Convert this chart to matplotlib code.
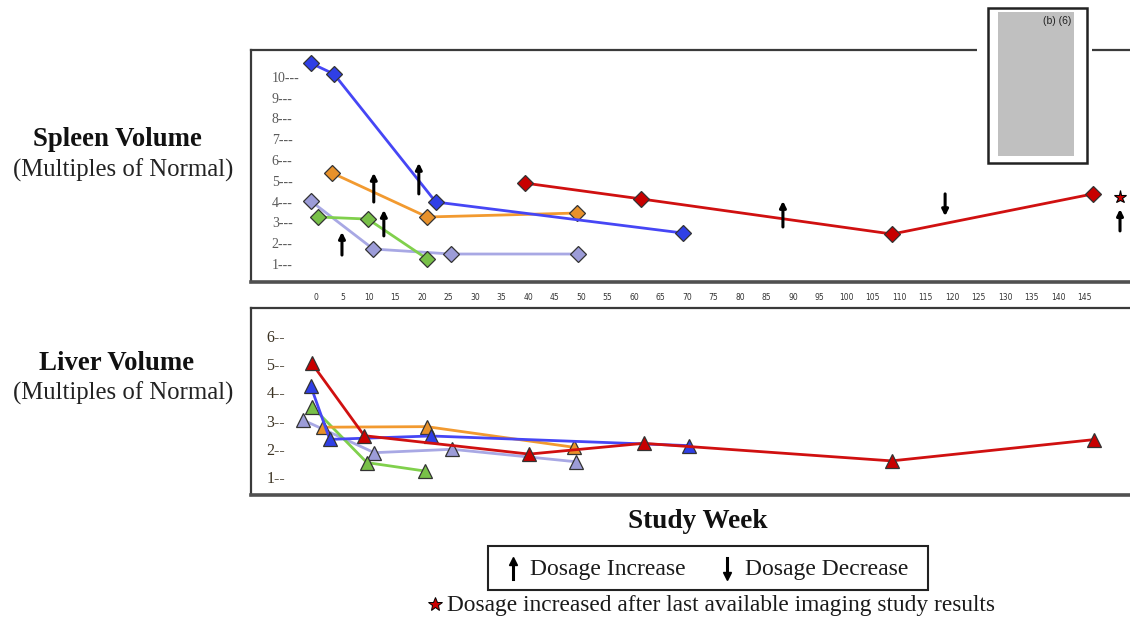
import matplotlib
matplotlib.use("Agg")
import matplotlib.pyplot as plt
from matplotlib.patches import Rectangle
from matplotlib.lines import Line2D

plt.rcParams['font.family'] = ['Liberation Serif', 'DejaVu Serif']

W, H = 1130, 618

# ---------------- data ----------------
week_ticks = list(range(0, 150, 5))
spleen_yticks = list(range(1, 11))
spleen_ylabels = [f"{v}---" for v in spleen_yticks]
liver_yticks = list(range(1, 7))
liver_ylabels = [f"{v}--" for v in liver_yticks]

# spleen volume (diamonds)
sp_blue_w = [-1, 3.4, 22.6, 69.2]
sp_blue_v = [10.66, 10.13, 3.98, 2.49]
sp_orange_w = [3.0, 21.0, 49.2]
sp_orange_v = [5.38, 3.26, 3.45]
sp_lav_w = [-1.0, 10.8, 25.5, 49.4]
sp_lav_v = [4.03, 1.72, 1.48, 1.48]
sp_green_w = [0.4, 9.8, 21.0]
sp_green_v = [3.26, 3.16, 1.24]
sp_red_w = [39.4, 61.3, 108.7, 146.6]
sp_red_v = [4.89, 4.13, 2.44, 4.37]

# liver volume (triangles)
lv_red_w = [-0.8, 9.1, 40.2, 61.8, 108.6, 146.7]
lv_red_v = [5.03, 2.47, 1.82, 2.20, 1.58, 2.33]
lv_blue_w = [-1.0, 2.6, 21.7, 70.3]
lv_blue_v = [4.23, 2.34, 2.46, 2.12]
lv_orange_w = [1.4, 20.9, 48.7]
lv_orange_v = [2.77, 2.79, 2.06]
lv_green_w = [-0.7, 9.6, 20.6]
lv_green_v = [3.49, 1.52, 1.22]
lv_lav_w = [-2.4, 11.0, 25.7, 49.0]
lv_lav_v = [3.02, 1.87, 1.99, 1.55]

# dosage arrows on spleen panel: week, tail value, tip value
arrow_w = [10.9, 19.4, 12.8, 4.9, 88.1, 118.7, 151.7]
arrow_tail = [3.98, 4.37, 2.35, 1.43, 2.78, 4.37, 2.59]
arrow_tip = [5.38, 5.86, 3.60, 2.54, 4.03, 3.30, 3.64]
star_w = [151.7]
star_v = [4.2]

# ---------------- layout helpers ----------------
def fx(x):
    return x / W

def fy(y):
    return 1 - y / H

fig = plt.figure(figsize=(W / 100, H / 100), dpi=100)

ax_l, ax_r = 251, 1135
px_per_week = 5.3
x0 = 316
xlim = ((ax_l - x0) / px_per_week, (ax_r - x0) / px_per_week)

# spleen axes
sp_top, sp_bot = 50, 282
ax1 = fig.add_axes([fx(ax_l), fy(sp_bot), (ax_r - ax_l) / W, (sp_bot - sp_top) / H])
# liver axes
lv_top, lv_bot = 308, 495
ax2 = fig.add_axes([fx(ax_l), fy(lv_bot), (ax_r - ax_l) / W, (lv_bot - lv_top) / H])

def sp_val(y):
    return 1 + (264 - y) / 20.8

def lv_val(y):
    return 1 + (477.3 - y) / 28.3

ax1.set_xlim(*xlim)
ax1.set_ylim(sp_val(sp_bot), sp_val(sp_top))
ax2.set_xlim(*xlim)
ax2.set_ylim(lv_val(lv_bot), lv_val(lv_top))

for ax in (ax1, ax2):
    for s in ax.spines.values():
        s.set_color('#3a3a3a')
        s.set_linewidth(1.6)
    ax.spines['bottom'].set_linewidth(2.6)
    ax.spines['bottom'].set_color('#505050')

# y tick labels inside
ax1.set_yticks(spleen_yticks)
ax1.set_yticklabels(spleen_ylabels, ha='left', fontsize=10, color='#5a5a5a')
ax1.tick_params(axis='y', length=0, pad=-15)
ax2.set_yticks(liver_yticks)
ax2.set_yticklabels(liver_ylabels, ha='left', fontsize=11.5, color='#3b3222')
ax2.tick_params(axis='y', length=0, pad=-11)

ax1.set_xticks(week_ticks)
ax1.set_xticklabels([str(t) for t in week_ticks], fontsize=5.5, color='#333333',
                    family=['DejaVu Sans'])
ax1.tick_params(axis='x', length=0, pad=8)
ax2.set_xticks([])

lw = 2.0
ms_d = 8.5
ms_t = 9.5
ec = '#333333'
series_sp = [
    (sp_lav_w, sp_lav_v, '#a8a8e4', '#9c9cd8'),
    (sp_green_w, sp_green_v, '#80d04c', '#78c048'),
    (sp_orange_w, sp_orange_v, '#f29a30', '#e8912a'),
    (sp_blue_w, sp_blue_v, '#4646f5', '#2f3fe6'),
    (sp_red_w, sp_red_v, '#d01010', '#c80000'),
]
for w, v, lc, mc in series_sp:
    ax1.plot(w, v, color=lc, lw=lw, marker='D', ms=ms_d, mfc=mc, mec=ec, mew=0.9,
             clip_on=False, zorder=3)

series_lv = [
    (lv_lav_w, lv_lav_v, '#a8a8e4', '#9c9cd8'),
    (lv_green_w, lv_green_v, '#80d04c', '#78c048'),
    (lv_orange_w, lv_orange_v, '#f29a30', '#e8912a'),
    (lv_blue_w, lv_blue_v, '#4646f5', '#2f3fe6'),
    (lv_red_w, lv_red_v, '#d01010', '#c80000'),
]
for w, v, lc, mc in series_lv:
    ax2.plot(w, v, color=lc, lw=lw, marker='^', ms=ms_t, mfc=mc, mec=ec, mew=0.9,
             clip_on=False, zorder=3)

for w, t0, t1 in zip(arrow_w, arrow_tail, arrow_tip):
    ax1.annotate('', xy=(w, t1), xytext=(w, t0),
                 arrowprops=dict(arrowstyle='-|>', color='black', lw=2.2,
                                 mutation_scale=9, shrinkA=0, shrinkB=0),
                 zorder=4)

ax1.plot(star_w, star_v, linestyle='none', marker='*', ms=9.5, mfc='#cc0000',
         mec='black', mew=0.8, clip_on=False, zorder=4)

# ---------------- side labels ----------------
fig.text(fx(117), fy(140), 'Spleen Volume', fontsize=19.3, fontweight='bold',
         ha='center', va='center', color='#111111')
fig.text(fx(123), fy(170), '(Multiples of Normal)', fontsize=17.8,
         ha='center', va='center', color='#222222')
fig.text(fx(117), fy(364), 'Liver Volume', fontsize=19.3, fontweight='bold',
         ha='center', va='center', color='#111111')
fig.text(fx(123), fy(393), '(Multiples of Normal)', fontsize=17.8,
         ha='center', va='center', color='#222222')

fig.text(fx(698), fy(521), 'Study Week', fontsize=19.6, fontweight='bold',
         ha='center', va='center', color='#111111')

# legend box
fig.add_artist(Rectangle((fx(488), fy(590)), (928 - 488) / W, (590 - 546) / H,
                         transform=fig.transFigure, fill=False, ec='#222222', lw=1.5))
fig.add_artist(Line2D([fx(513), fx(513)], [fy(579), fy(563)], color='black', lw=2.2,
                      transform=fig.transFigure))
fig.add_artist(Line2D([fx(513)], [fy(561)], marker='^', ms=6, color='black', lw=0,
                      transform=fig.transFigure))
fig.add_artist(Line2D([fx(727), fx(727)], [fy(558), fy(574)], color='black', lw=2.2,
                      transform=fig.transFigure))
fig.add_artist(Line2D([fx(727)], [fy(576)], marker='v', ms=6, color='black', lw=0,
                      transform=fig.transFigure))
fig.text(fx(530), fy(570), 'Dosage Increase', fontsize=17, ha='left', va='center',
         color='#1a1a1a')
fig.text(fx(745), fy(570), 'Dosage Decrease', fontsize=17, ha='left', va='center',
         color='#1a1a1a')
fig.add_artist(Line2D([fx(435)], [fy(604)], marker='*', ms=10, mfc='#cc0000', mec='black',
                      mew=0.7, lw=0, transform=fig.transFigure))
fig.text(fx(447), fy(605), 'Dosage increased after last available imaging study results',
         fontsize=16.8, ha='left', va='center', color='#1a1a1a')

# redaction box top right
fig.add_artist(Rectangle((fx(977), fy(170)), (1092 - 977) / W, (170 - 0) / H,
                         transform=fig.transFigure, fc='white', ec='none', zorder=5))
fig.add_artist(Rectangle((fx(988), fy(163)), (1087 - 988) / W, (163 - 8) / H,
                         transform=fig.transFigure, fc='white', ec='#222222', lw=1.8, zorder=6))
fig.add_artist(Rectangle((fx(998), fy(156)), (1074 - 998) / W, (156 - 12) / H,
                         transform=fig.transFigure, fc='#c0c0c0', ec='none', zorder=7))
fig.text(fx(1071), fy(21), '(b) (6)', fontsize=7.5, ha='right', va='center',
         color='#222222', family=['Liberation Sans Narrow', 'Liberation Sans', 'DejaVu Sans'],
         zorder=8)

fig.savefig('out.png', dpi=100)
